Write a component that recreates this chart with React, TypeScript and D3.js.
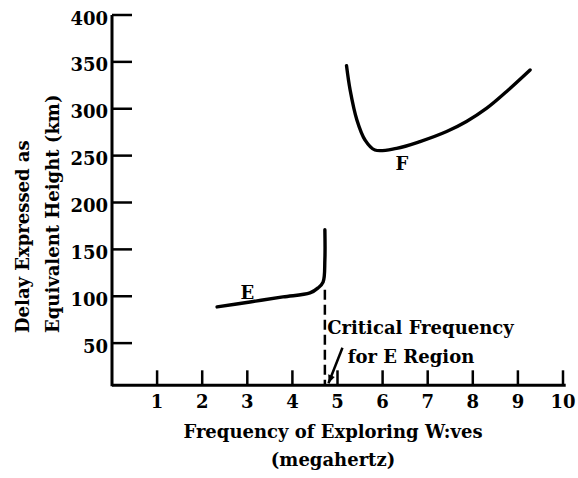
import * as d3 from "d3";

// ionogram: equivalent height vs frequency
const eFreq = [2.33, 3.06, 3.79, 4.39, 4.57, 4.68, 4.72, 4.72];
const eHeight = [88.6, 93.9, 99.3, 103.5, 108.9, 115, 139, 171];

const fFreq = [5.2, 5.28, 5.43, 5.61, 5.83, 6.31, 6.83, 7.42, 7.86, 8.31, 8.75, 9.27];
const fHeight = [346, 320, 288, 266.7, 256, 257.8, 265, 275.7, 286.4, 300.6, 318.4, 341.3];

const xTicks = [1, 2, 3, 4, 5, 6, 7, 8, 9, 10];
const yTicks = [50, 100, 150, 200, 250, 300, 350, 400];

const criticalFreq = 4.72;

const FONT = "'DejaVu Serif', serif";

export default function App() {
  const width = 578;
  const height = 478;

  const x = d3.scaleLinear().domain([0, 10]).range([112, 563]);
  const y = d3.scaleLinear().domain([0, 400]).range([390, 15]);
  const base = y(5); // where the frequency axis sits

  const line = d3
    .line<[number, number]>()
    .x((d) => x(d[0]))
    .y((d) => y(d[1]))
    .curve(d3.curveCatmullRom.alpha(0.5));

  const eData = eFreq.map((f, i) => [f, eHeight[i]] as [number, number]);
  const fData = fFreq.map((f, i) => [f, fHeight[i]] as [number, number]);

  // little arrow pointing at the critical frequency
  const ax0 = x(5.11), ay0 = y(45);
  const ax1 = x(4.8), ay1 = base - 2;
  const ang = Math.atan2(ay1 - ay0, ax1 - ax0);
  const head = 9;
  const p1 = [ax1 - head * Math.cos(ang - 0.4), ay1 - head * Math.sin(ang - 0.4)];
  const p2 = [ax1 - head * Math.cos(ang + 0.4), ay1 - head * Math.sin(ang + 0.4)];

  return (
    <svg
      width={width}
      height={height}
      style={{ position: "absolute", left: 0, top: 0, background: "#fff" }}
      fontFamily={FONT}
      fontWeight="bold"
      fontSize={18}
    >
      {/* axes */}
      <line x1={x(0)} x2={x(10.06)} y1={base} y2={base} stroke="#000" strokeWidth={3} />
      <line x1={x(0)} x2={x(0)} y1={base + 1} y2={y(400)} stroke="#000" strokeWidth={3} />

      {yTicks.map((t) => (
        <g key={t}>
          <line x1={x(0)} x2={x(0) + 20} y1={y(t)} y2={y(t)} stroke="#000" strokeWidth={2.5} />
          <text x={x(0) - 4} y={y(t) + 9.5} textAnchor="end">
            {t}
          </text>
        </g>
      ))}

      {xTicks.map((t) => (
        <g key={t}>
          <line x1={x(t)} x2={x(t)} y1={base} y2={base - 15} stroke="#000" strokeWidth={2.5} />
          <text x={x(t)} y={408} textAnchor="middle">
            {t}
          </text>
        </g>
      ))}

      {/* curves */}
      <path d={line(eData) ?? ""} fill="none" stroke="#000" strokeWidth={3.4} strokeLinecap="round" />
      <path d={line(fData) ?? ""} fill="none" stroke="#000" strokeWidth={3.4} strokeLinecap="round" />

      <text x={x(3.0)} y={y(104.5) + 7} textAnchor="middle">E</text>
      <text x={x(6.43)} y={y(242) + 7} textAnchor="middle">F</text>

      {/* critical frequency marker */}
      <line
        x1={x(criticalFreq)}
        x2={x(criticalFreq)}
        y1={y(107)}
        y2={base}
        stroke="#000"
        strokeWidth={2.5}
        strokeDasharray="10,5"
      />
      <line x1={ax0} y1={ay0} x2={ax1} y2={ay1} stroke="#000" strokeWidth={2.5} />
      <path d={`M${ax1},${ay1}L${p1[0]},${p1[1]}L${p2[0]},${p2[1]}Z`} fill="#000" />

      <text x={x(4.77)} y={y(59.7)}>Critical Frequency</text>
      <text x={x(5.23)} y={y(28.8)}>for E Region</text>

      {/* axis titles */}
      <text x={333} y={438} textAnchor="middle">Frequency of Exploring W:ves</text>
      <text x={333} y={466} textAnchor="middle">(megahertz)</text>

      <text transform="translate(29,333) rotate(-90)">Delay Expressed as</text>
      <text transform="translate(59,333) rotate(-90)">Equivalent Height (km)</text>
    </svg>
  );
}
